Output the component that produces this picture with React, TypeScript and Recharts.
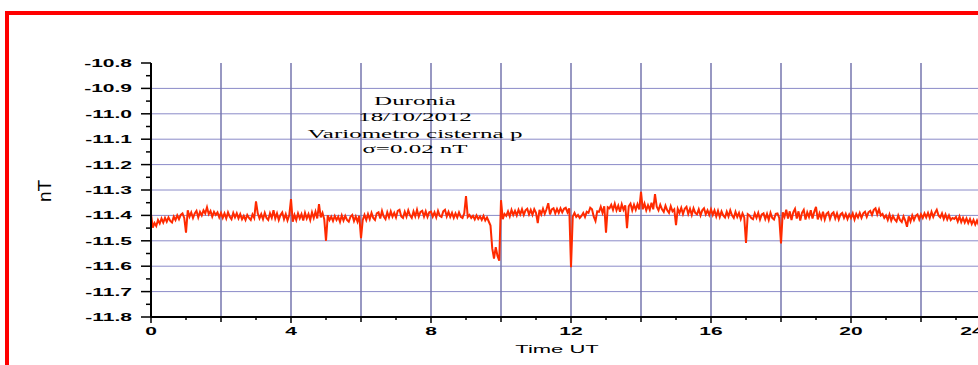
import React from "react";
import { LineChart, Line, XAxis, YAxis, CartesianGrid } from "recharts";

// samples every 0.05 h, one row per hour (20 values), last value at 24 h
const hourRows: number[][] = [
  [-11.395, -11.448, -11.43, -11.442, -11.418, -11.432, -11.412, -11.428, -11.41, -11.425, -11.408, -11.422, -11.428, -11.405, -11.418, -11.4, -11.415, -11.398, -11.392, -11.41],
  [-11.468, -11.38, -11.405, -11.388, -11.41, -11.392, -11.382, -11.408, -11.386, -11.4, -11.38, -11.392, -11.368, -11.395, -11.383, -11.405, -11.386, -11.398, -11.388, -11.408],
  [-11.39, -11.41, -11.392, -11.412, -11.388, -11.405, -11.415, -11.39, -11.408, -11.392, -11.412, -11.395, -11.415, -11.402, -11.418, -11.398, -11.41, -11.418, -11.396, -11.41],
  [-11.345, -11.392, -11.412, -11.395, -11.415, -11.39, -11.41, -11.418, -11.392, -11.41, -11.38, -11.412, -11.392, -11.418, -11.398, -11.388, -11.415, -11.395, -11.42, -11.4],
  [-11.336, -11.425, -11.398, -11.418, -11.392, -11.412, -11.395, -11.42, -11.39, -11.412, -11.395, -11.418, -11.388, -11.41, -11.385, -11.412, -11.356, -11.408, -11.39, -11.415],
  [-11.5, -11.4, -11.418, -11.405, -11.422, -11.402, -11.418, -11.405, -11.425, -11.4, -11.42, -11.402, -11.418, -11.425, -11.405, -11.398, -11.422, -11.404, -11.425, -11.402],
  [-11.49, -11.418, -11.398, -11.418, -11.395, -11.415, -11.39, -11.41, -11.418, -11.392, -11.388, -11.412, -11.382, -11.405, -11.415, -11.388, -11.408, -11.384, -11.405, -11.39],
  [-11.408, -11.382, -11.378, -11.404, -11.41, -11.386, -11.405, -11.38, -11.4, -11.41, -11.384, -11.404, -11.378, -11.405, -11.386, -11.382, -11.405, -11.384, -11.406, -11.388],
  [-11.385, -11.405, -11.388, -11.408, -11.382, -11.402, -11.406, -11.384, -11.378, -11.404, -11.386, -11.406, -11.39, -11.41, -11.392, -11.408, -11.388, -11.406, -11.41, -11.392],
  [-11.324, -11.406, -11.398, -11.41, -11.402, -11.416, -11.4, -11.414, -11.404, -11.418, -11.402, -11.42, -11.408, -11.424, -11.44, -11.53, -11.57, -11.525, -11.56, -11.578],
  [-11.34, -11.415, -11.394, -11.402, -11.384, -11.404, -11.378, -11.398, -11.382, -11.4, -11.378, -11.396, -11.376, -11.398, -11.38, -11.374, -11.396, -11.378, -11.398, -11.376],
  [-11.39, -11.43, -11.378, -11.396, -11.374, -11.394, -11.376, -11.352, -11.396, -11.376, -11.372, -11.392, -11.374, -11.39, -11.372, -11.388, -11.374, -11.37, -11.388, -11.372],
  [-11.604, -11.405, -11.39, -11.406, -11.398, -11.41, -11.402, -11.39, -11.406, -11.386, -11.39, -11.37, -11.376, -11.405, -11.422, -11.384, -11.386, -11.366, -11.39, -11.364],
  [-11.468, -11.368, -11.372, -11.358, -11.378, -11.354, -11.38, -11.362, -11.386, -11.356, -11.378, -11.36, -11.45, -11.364, -11.354, -11.38, -11.358, -11.378, -11.356, -11.376],
  [-11.307, -11.376, -11.354, -11.38, -11.36, -11.378, -11.35, -11.376, -11.316, -11.366, -11.38, -11.358, -11.376, -11.386, -11.362, -11.38, -11.39, -11.364, -11.384, -11.376],
  [-11.438, -11.374, -11.39, -11.37, -11.395, -11.374, -11.366, -11.394, -11.374, -11.398, -11.372, -11.39, -11.396, -11.376, -11.4, -11.38, -11.372, -11.396, -11.38, -11.398],
  [-11.376, -11.398, -11.38, -11.404, -11.382, -11.406, -11.384, -11.4, -11.408, -11.385, -11.404, -11.38, -11.4, -11.41, -11.386, -11.406, -11.39, -11.414, -11.392, -11.408],
  [-11.508, -11.395, -11.4, -11.41, -11.415, -11.392, -11.41, -11.39, -11.416, -11.396, -11.392, -11.414, -11.394, -11.418, -11.39, -11.41, -11.416, -11.394, -11.392, -11.41],
  [-11.51, -11.388, -11.406, -11.378, -11.412, -11.384, -11.418, -11.388, -11.374, -11.412, -11.384, -11.42, -11.39, -11.378, -11.416, -11.388, -11.406, -11.38, -11.412, -11.386],
  [-11.366, -11.416, -11.392, -11.412, -11.386, -11.416, -11.394, -11.388, -11.414, -11.394, -11.388, -11.412, -11.392, -11.416, -11.396, -11.39, -11.41, -11.394, -11.414, -11.396],
  [-11.41, -11.392, -11.416, -11.394, -11.408, -11.39, -11.41, -11.392, -11.386, -11.406, -11.388, -11.382, -11.398, -11.378, -11.372, -11.396, -11.376, -11.4, -11.394, -11.41],
  [-11.4, -11.418, -11.396, -11.42, -11.402, -11.416, -11.424, -11.4, -11.418, -11.426, -11.404, -11.42, -11.445, -11.404, -11.424, -11.4, -11.418, -11.402, -11.396, -11.416],
  [-11.396, -11.41, -11.392, -11.408, -11.39, -11.41, -11.386, -11.406, -11.39, -11.378, -11.4, -11.408, -11.392, -11.414, -11.396, -11.416, -11.4, -11.418, -11.41, -11.414],
  [-11.406, -11.424, -11.404, -11.426, -11.41, -11.428, -11.412, -11.43, -11.414, -11.434, -11.418, -11.436, -11.42, -11.438, -11.422, -11.436, -11.42, -11.438, -11.424, -11.436],
];
const lastValue = -11.43;

const xTicks = [0, 1, 2, 3, 4, 5, 6, 7, 8, 9, 10, 11, 12, 13, 14, 15, 16, 17, 18, 19, 20, 21, 22, 23, 24];
const xGrid = [2, 4, 6, 8, 10, 12, 14, 16, 18, 20, 22];
const yTicks = [
  -11.8, -11.75, -11.7, -11.65, -11.6, -11.55, -11.5, -11.45, -11.4, -11.35, -11.3,
  -11.25, -11.2, -11.15, -11.1, -11.05, -11.0, -10.95, -10.9, -10.85, -10.8,
];
const yGrid = [-11.7, -11.6, -11.5, -11.4, -11.3, -11.2, -11.1, -11.0, -10.9];
const noteLines = ["Duronia", "18/10/2012", "Variometro cisterna p", "σ=0.02 nT"];

const values = [...hourRows.flat(), lastValue];
const data = values.map((v, i) => ({ t: i / 20, v }));

const sans = "'Liberation Sans', Arial, sans-serif";
const serif = "'Liberation Serif', 'Times New Roman', serif";

const YTick = (props: any) => {
  const { x, y, payload } = props;
  const v = payload.value as number;
  const major = Math.round(v * 100) % 10 === 0;
  return (
    <g>
      <line x1={x} x2={x - (major ? 10 : 5)} y1={y} y2={y} stroke="#000" strokeWidth={1.5} />
      {major && (
        <text
          transform={`translate(${x - 19},${y + 4}) scale(2,1)`}
          textAnchor="end"
          fontSize={10.5}
          fontWeight="bold"
          fontFamily={sans}
          fill="#000"
        >
          {v.toFixed(1)}
        </text>
      )}
    </g>
  );
};

const XTick = (props: any) => {
  const { x, y, payload } = props;
  const v = payload.value as number;
  const len = v % 4 === 0 ? 6 : v % 2 === 0 ? 5 : 3;
  const lx = v === 24 ? x - 19 : x;
  return (
    <g>
      <line x1={x} x2={x} y1={y} y2={y + len} stroke="#000" strokeWidth={1.5} />
      {v % 4 === 0 && (
        <text
          transform={`translate(${lx},${y + 18}) scale(2,1)`}
          textAnchor="middle"
          fontSize={10.5}
          fontWeight="bold"
          fontFamily={sans}
          fill="#000"
        >
          {v}
        </text>
      )}
    </g>
  );
};

export default function App() {
  return (
    <div
      style={{
        position: "absolute",
        left: 0,
        top: 0,
        width: 978,
        height: 365,
        overflow: "hidden",
        background: "#fff",
      }}
    >
      <div
        style={{
          position: "absolute",
          left: 5,
          top: 11,
          width: 1200,
          height: 600,
          border: "4px solid #ff0000",
          boxSizing: "border-box",
        }}
      />
      <div style={{ position: "absolute", left: 0, top: 0 }}>
        <LineChart width={1040} height={365} data={data} margin={{ top: 63, right: 49, bottom: 0, left: 0 }}>
          <CartesianGrid horizontal={true} vertical={false} horizontalValues={yGrid} stroke="#8a8ac8" strokeWidth={1} />
          <CartesianGrid horizontal={false} vertical={true} verticalValues={xGrid} stroke="#7676ae" strokeWidth={1.5} />
          <XAxis
            dataKey="t"
            type="number"
            domain={[0, 24]}
            ticks={xTicks}
            interval={0}
            height={48}
            tickSize={0}
            tickMargin={0}
            tick={<XTick />}
            axisLine={{ stroke: "#000", strokeWidth: 2 }}
            tickLine={false}
          />
          <YAxis
            type="number"
            domain={[-11.8, -10.8]}
            ticks={yTicks}
            interval={0}
            width={151}
            tickSize={0}
            tickMargin={0}
            tick={<YTick />}
            axisLine={{ stroke: "#000", strokeWidth: 2 }}
            tickLine={false}
            allowDataOverflow
          />
          <Line
            type="linear"
            dataKey="v"
            stroke="#ff2a00"
            strokeWidth={2}
            dot={false}
            isAnimationActive={false}
          />
        </LineChart>
      </div>
      <svg
        width={978}
        height={365}
        style={{ position: "absolute", left: 0, top: 0, pointerEvents: "none" }}
      >
        <text
          transform="translate(51,191) rotate(-90)"
          textAnchor="middle"
          fontSize={19}
          fontFamily={sans}
          fill="#000"
        >
          nT
        </text>
        {noteLines.map((s, i) => (
          <text
            key={s}
            transform={`translate(415,${[105, 121, 138, 153][i]}) scale(1.95,1)`}
            textAnchor="middle"
            fontSize={12.8}
            fontFamily={serif}
            fill="#000"
          >
            {s}
          </text>
        ))}
        <text
          transform="translate(557,353) scale(2,1)"
          textAnchor="middle"
          fontSize={11}
          fontFamily={sans}
          fill="#000"
        >
          Time UT
        </text>
      </svg>
    </div>
  );
}
